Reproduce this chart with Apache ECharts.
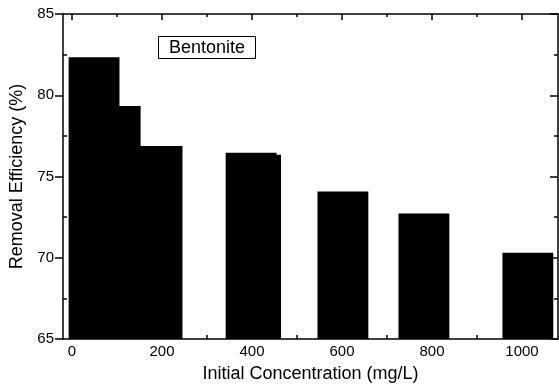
<!DOCTYPE html>
<html>
<head>
<meta charset="utf-8">
<script src="https://cdn.jsdelivr.net/npm/echarts@6/dist/echarts.min.js"></script>
<style>html,body{margin:0;padding:0;background:#fff}#c{width:559px;height:385px}</style>
</head>
<body>
<div id="c"></div>
<script>
// Data
var concentrations = [49, 96, 189, 398, 408, 602, 782, 1013];
var removal = [82.34, 79.34, 76.88, 76.46, 76.34, 74.07, 72.73, 70.31];
var xTickLabels = [0, 200, 400, 600, 800, 1000];
var xMinorTicks = [100, 300, 500, 700, 900];
var yTickLabels = [65, 70, 75, 80, 85];
var yMinorTicks = [67.5, 72.5, 77.5, 82.5];
var legendLabel = 'Bentonite';
var xTitle = 'Initial Concentration (mg/L)';
var yTitle = 'Removal Efficiency (%)';
var barWidthUnits = 113;

var FONT = '"Liberation Sans", Arial, sans-serif';
var lineStyle = {color: '#000', width: 1.5};
var chart = echarts.init(document.getElementById('c'), null, {renderer: 'canvas'});

var xBase = {type: 'value', min: -20, max: 1080, splitLine: {show: false}};
var yBase = {type: 'value', min: 65, max: 85, splitLine: {show: false}};
function plain(v) { return String(v); }

var option = {
  animation: false,
  backgroundColor: '#fff',
  grid: {left: 63, right: 1, top: 14, bottom: 46, containLabel: false, outerBoundsMode: 'none'},
  xAxis: [
    Object.assign({}, xBase, {
      position: 'bottom',
      name: xTitle, nameLocation: 'middle', nameGap: 26,
      nameTextStyle: {fontFamily: FONT, fontSize: 18, color: '#000'},
      axisLine: {show: true, onZero: false, lineStyle: lineStyle},
      axisTick: {show: true, inside: true, length: 6, customValues: xTickLabels, lineStyle: lineStyle},
      axisLabel: {show: true, customValues: xTickLabels, formatter: plain, margin: 5, fontFamily: FONT, fontSize: 15, color: '#000'}
    }),
    Object.assign({}, xBase, {
      position: 'bottom',
      axisLine: {show: false, onZero: false},
      axisTick: {show: true, inside: true, length: 4, customValues: xMinorTicks, lineStyle: lineStyle},
      axisLabel: {show: false}
    }),
    Object.assign({}, xBase, {
      position: 'top',
      axisLine: {show: true, onZero: false, lineStyle: lineStyle},
      axisTick: {show: true, inside: true, length: 6, customValues: xTickLabels, lineStyle: lineStyle},
      axisLabel: {show: false}
    }),
    Object.assign({}, xBase, {
      position: 'top',
      axisLine: {show: false, onZero: false},
      axisTick: {show: true, inside: true, length: 3, customValues: xMinorTicks, lineStyle: lineStyle},
      axisLabel: {show: false}
    })
  ],
  yAxis: [
    Object.assign({}, yBase, {
      position: 'left',
      name: yTitle, nameLocation: 'middle', nameGap: 37, nameRotate: 90,
      nameTextStyle: {fontFamily: FONT, fontSize: 18, color: '#000'},
      axisLine: {show: true, onZero: false, lineStyle: lineStyle},
      axisTick: {show: true, inside: false, length: 8, customValues: yTickLabels, lineStyle: lineStyle},
      axisLabel: {show: true, customValues: yTickLabels, formatter: plain, margin: 9, fontFamily: FONT, fontSize: 15, color: '#000'}
    }),
    Object.assign({}, yBase, {
      position: 'left',
      axisLine: {show: false, onZero: false},
      axisTick: {show: true, inside: true, length: 4, customValues: yMinorTicks, lineStyle: lineStyle},
      axisLabel: {show: false}
    }),
    Object.assign({}, yBase, {
      position: 'right',
      axisLine: {show: true, onZero: false, lineStyle: lineStyle},
      axisTick: {show: true, inside: true, length: 8, customValues: yTickLabels, lineStyle: lineStyle},
      axisLabel: {show: false}
    }),
    Object.assign({}, yBase, {
      position: 'right',
      axisLine: {show: false, onZero: false},
      axisTick: {show: true, inside: true, length: 4, customValues: yMinorTicks, lineStyle: lineStyle},
      axisLabel: {show: false}
    })
  ],
  graphic: [{
    type: 'group', left: 158, top: 36,
    children: [
      {type: 'rect', shape: {x: 0, y: 0, width: 97, height: 22}, style: {fill: '#fff', stroke: '#000', lineWidth: 1}},
      {type: 'text', x: 48.5, y: 11.5, style: {text: legendLabel, font: '18px ' + FONT, fill: '#000', align: 'center', verticalAlign: 'middle'}}
    ]
  }],
  series: [{
    type: 'custom',
    xAxisIndex: 0, yAxisIndex: 0,
    data: concentrations.map(function (c, i) { return [c, removal[i]]; }),
    renderItem: function (params, api) {
      var x = api.value(0), y = api.value(1);
      var p0 = api.coord([x - barWidthUnits / 2, y]);
      var p1 = api.coord([x + barWidthUnits / 2, 65]);
      return {
        type: 'rect',
        shape: {x: p0[0], y: p0[1], width: p1[0] - p0[0], height: p1[1] - p0[1]},
        style: {fill: '#000'}
      };
    },
    z: 1
  }]
};
chart.setOption(option);
</script>
</body>
</html>
